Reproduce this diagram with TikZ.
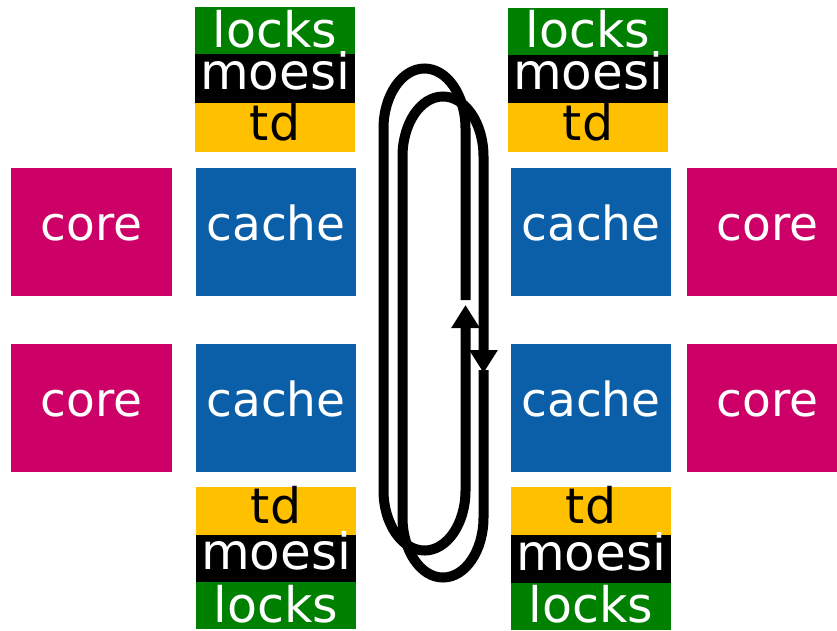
\documentclass[tikz,border=0pt]{standalone}
\usepackage{fontspec}
\setmainfont{DejaVu Sans}
\usetikzlibrary{arrows.meta}
\definecolor{coremag}{RGB}{204,0,102}
\definecolor{cacheblue}{RGB}{11,95,168}
\definecolor{lockgreen}{RGB}{0,128,0}
\definecolor{tdyellow}{RGB}{255,192,0}
\tikzset{
  blockbox/.style={inner sep=0pt, outer sep=0pt, anchor=center, text depth=0pt},
  corebox/.style={blockbox, fill=coremag, text=white, minimum width=161pt, minimum height=128pt,
    text height=16pt, font=\fontsize{47}{50}\selectfont},
  cachebox/.style={blockbox, fill=cacheblue, text=white, minimum width=160pt, minimum height=128pt,
    text height=16pt, font=\fontsize{47}{50}\selectfont},
  lockbar/.style={blockbox, fill=lockgreen, text=white, minimum width=160pt, minimum height=47pt,
    text height=33pt, font=\fontsize{49}{50}\selectfont},
  moesibar/.style={blockbox, fill=black, text=white, minimum width=160pt, minimum height=49pt,
    text height=21pt, font=\fontsize{50}{50}\selectfont},
  tdbar/.style={blockbox, fill=tdyellow, text=black, minimum width=160pt, minimum height=49pt,
    text height=25pt, font=\fontsize{49}{50}\selectfont},
  ringline/.style={line width=10pt, black, line cap=butt},
  ringtip/.style={-{Triangle[width=27pt,length=23pt]}}
}
\begin{document}
\begin{tikzpicture}[x=1pt,y=1pt]
  \useasboundingbox (0,0) rectangle (837,-630);
  \clip (0,0) rectangle (837,-630);

  % cores
  \node[corebox] (coreLA) at (91.5,-232) {core};
  \node[corebox] (coreLB) at (91.5,-408) {core};
  \node[corebox] (coreRA) at (767.5,-232) {core};
  \node[corebox] (coreRB) at (767.5,-408) {core};

  % caches
  \node[cachebox] (cacheLA) at (276,-232) {cache};
  \node[cachebox] (cacheLB) at (276,-408) {cache};
  \node[cachebox] (cacheRA) at (591,-232) {cache};
  \node[cachebox] (cacheRB) at (591,-408) {cache};

  % state stacks above the upper caches
  \node[lockbar]  (lockLA)  at (275,-30.5) {locks};
  \node[moesibar] (moesiLA) at (275,-78.5) {moesi};
  \node[tdbar]    (tdLA)    at (275,-127.5) {td};
  \node[lockbar]  (lockRA)  at (588,-31) {locks};
  \node[moesibar] (moesiRA) at (588,-79) {moesi};
  \node[tdbar]    (tdRA)    at (588,-127.5) {td};

  % state stacks below the lower caches
  \node[tdbar]    (tdLB)    at (276,-511) {td};
  \node[moesibar] (moesiLB) at (276,-559) {moesi};
  \node[lockbar]  (lockLB)  at (276,-605.5) {locks};
  \node[tdbar]    (tdRB)    at (591,-511) {td};
  \node[moesibar] (moesiRB) at (591,-559.5) {moesi};
  \node[lockbar]  (lockRB)  at (591,-606) {locks};

  % ring: upward loop
  \coordinate (ringAstart) at (465.5,-300);
  \coordinate (ringAend) at (465.5,-305);
  \draw[ringline, ringtip] (ringAstart) -- (465.5,-128.5)
    arc[start angle=0, end angle=180, x radius=41, y radius=60]
    -- (383.5,-490.5)
    arc[start angle=180, end angle=360, x radius=41, y radius=60]
    -- (ringAend);

  % ring: downward loop
  \coordinate (ringBstart) at (483.5,-370);
  \coordinate (ringBend) at (483.5,-373);
  \draw[ringline, ringtip] (ringBstart) -- (483.5,-517.5)
    arc[start angle=360, end angle=180, x radius=40.5, y radius=60]
    -- (402.5,-156.5)
    arc[start angle=180, end angle=0, x radius=40.5, y radius=60]
    -- (ringBend);
\end{tikzpicture}
\end{document}
